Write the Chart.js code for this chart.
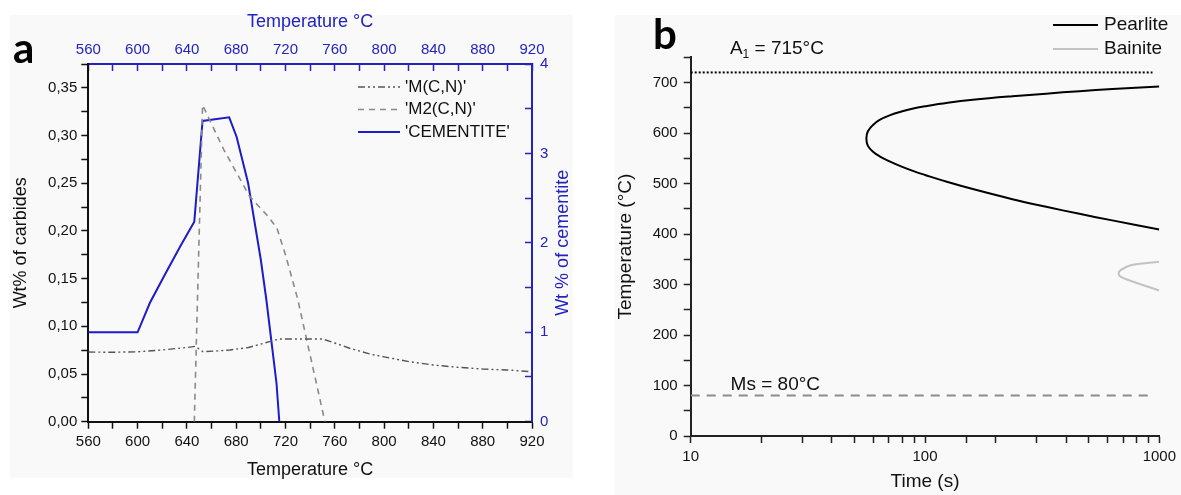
<!DOCTYPE html>
<html>
<head>
<meta charset="utf-8">
<script src="https://cdn.jsdelivr.net/npm/chart.js@4.4.1/dist/chart.umd.min.js"></script>
<style>
  html, body { margin: 0; padding: 0; background: #fff; }
  body { width: 1181px; height: 495px; position: relative; overflow: hidden; }
  .panel { position: absolute; background: #f9f9f9; }
  .box { position: absolute; top: 0; height: 495px; }
  .letter { position: absolute; font-family: Lato, "Open Sans", sans-serif; font-weight: 700; font-size: 42px; line-height: 1; color: #000; }
</style>
</head>
<body>
<div class="panel" style="left:10px;top:15px;width:563px;height:463px"></div>
<div class="panel" style="left:615px;top:15px;width:566px;height:480px"></div>
<div class="box" style="left:0;width:580px"><canvas id="chartA"></canvas></div>
<div class="box" style="left:600px;width:581px"><canvas id="chartB"></canvas></div>
<div class="letter" style="left:13px;top:26px">a</div>
<div class="letter" style="left:653px;top:12px">b</div>

<script>
// Panel a : carbides vs temperature
const mcnTemp = [560, 580, 600, 620, 640, 647, 653, 665, 675, 690, 707, 715, 750, 760, 772, 790, 800, 820, 840, 860, 880, 900, 920];
const mcnWt = [0.0730, 0.0728, 0.0733, 0.0752, 0.0778, 0.0790, 0.0734, 0.0742, 0.0752, 0.0778, 0.0839, 0.0867, 0.0867, 0.0825, 0.0770, 0.0705, 0.0680, 0.0630, 0.0594, 0.0570, 0.0552, 0.0542, 0.0524];

const m2cnTemp = [646, 652.7, 670, 691, 706, 713, 720, 730, 737, 752];
const m2cnWt = [0, 0.332, 0.285, 0.236, 0.215, 0.203, 0.175, 0.128, 0.087, 0];

const cemTemp = [560, 600, 610, 623.5, 635, 646, 652.7, 674.3, 680.3, 689.7, 700, 704.5, 708.6, 712.7, 715];
const cemWt = [1.0, 1.0, 1.33, 1.68, 1.97, 2.237, 3.363, 3.404, 3.187, 2.666, 1.808, 1.361, 0.895, 0.43, 0];

// Panel b : TTT diagram
const pearliteTime = [1000, 630, 456, 329, 236, 160, 125, 100, 90, 80, 70.6, 64, 60, 57, 56.2, 57, 60, 64, 70.6, 80, 90, 100, 125, 160, 236, 329, 456, 630, 1000];
const pearliteTemp = [692, 687, 683, 678, 673, 666, 660, 653, 649, 643, 635, 626, 616, 603, 589, 575, 563, 554, 544, 533, 524, 517, 503, 489, 469, 454, 440, 427, 409];

const bainiteTime = [1000, 769, 686, 670, 686, 769, 1000];
const bainiteTemp = [345, 339, 329, 322, 315, 306, 288];

const a1Time = [10, 935];
const a1Temp = [720, 720];
const msTime = [10, 935];
const msTemp = [80, 80];

const blue = '#2323c0';
const ink = '#111';
const fontFam = '"Liberation Sans", Arial, sans-serif';

Chart.defaults.font.family = fontFam;
Chart.defaults.color = ink;

function pts(xs, ys) {
    return xs.map((x, i) => ({ x: x, y: ys[i] }));
}

// legende dessinee a la main (positions fixes)
function drawLegend(ctx, items, x0, x1, xt, y0, dy, size) {
    ctx.save();
    ctx.font = size + 'px ' + fontFam;
    ctx.textBaseline = 'middle';
    items.forEach((ds, i) => {
        const y = y0 + i * dy;
        ctx.strokeStyle = ds.borderColor;
        ctx.lineWidth = ds.borderWidth;
        ctx.setLineDash(ds.borderDash || []);
        ctx.beginPath();
        ctx.moveTo(x0, y);
        ctx.lineTo(x1, y);
        ctx.stroke();
        ctx.setLineDash([]);
        ctx.fillStyle = ink;
        ctx.fillText(ds.label, xt, y);
    });
    ctx.restore();
}

const extrasA = {
    id: 'extrasA',
    afterDraw(chart) {
        const ctx = chart.ctx;
        drawLegend(ctx, chart.data.datasets, 358, 400, 405, 87, 22.5, 17);
        const y2 = chart.scales.y2;
        ctx.save();
        ctx.translate(563, (y2.top + y2.bottom) / 2);
        ctx.rotate(-Math.PI / 2);
        ctx.textAlign = 'center';
        ctx.textBaseline = 'middle';
        ctx.fillStyle = blue;
        ctx.font = '18px ' + fontFam;
        ctx.fillText('Wt % of cementite', 0, 0);
        ctx.restore();
    }
};

new Chart(document.getElementById('chartA'), {
    type: 'scatter',
    data: {
        datasets: [
            {
                label: "'M(C,N)'",
                data: pts(mcnTemp, mcnWt),
                showLine: true,
                borderColor: '#555',
                borderWidth: 1.4,
                borderDash: [7, 3, 2, 3, 2, 3],
                pointRadius: 0,
                xAxisID: 'x',
                yAxisID: 'y'
            },
            {
                label: "'M2(C,N)'",
                data: pts(m2cnTemp, m2cnWt),
                showLine: true,
                borderColor: '#8a8a8a',
                borderWidth: 1.6,
                borderDash: [6, 5],
                pointRadius: 0,
                xAxisID: 'x',
                yAxisID: 'y'
            },
            {
                label: "'CEMENTITE'",
                data: pts(cemTemp, cemWt),
                showLine: true,
                borderColor: '#1c1cc8',
                borderWidth: 2,
                pointRadius: 0,
                xAxisID: 'x',
                yAxisID: 'y2'
            }
        ]
    },
    options: {
        responsive: true,
        maintainAspectRatio: false,
        animation: false,
        layout: { padding: 0 },
        plugins: { legend: { display: false }, tooltip: { enabled: false } },
        scales: {
            x: {
                type: 'linear', position: 'bottom', min: 560, max: 920,
                ticks: { stepSize: 20, autoSkip: false, maxRotation: 0, padding: 4, color: ink, font: { size: 15 },
                    callback: v => (v % 40 === 0 ? String(v) : '') },
                grid: { drawOnChartArea: false, tickLength: 7, tickColor: ink, tickWidth: 1.5 },
                border: { color: ink, width: 2 },
                title: { display: true, text: 'Temperature °C', color: ink, font: { size: 18 }, padding: { top: 0, bottom: 14 } },
                afterFit: s => { s.height = 73.3; }
            },
            x2: {
                type: 'linear', position: 'top', min: 560, max: 920,
                ticks: { stepSize: 20, autoSkip: false, maxRotation: 0, padding: 12, color: blue, font: { size: 15 },
                    callback: v => (v % 40 === 0 ? String(v) : '') },
                grid: { drawOnChartArea: false, tickLength: -7, tickColor: blue, tickWidth: 1.5 },
                border: { color: blue, width: 2 },
                title: { display: true, text: 'Temperature °C', color: blue, font: { size: 18 }, padding: { top: 11, bottom: 0 } },
                afterFit: s => { s.height = 64; }
            },
            y: {
                type: 'linear', position: 'left', min: 0, max: 0.375,
                ticks: { stepSize: 0.025, autoSkip: false, padding: 4, color: ink, font: { size: 15 },
                    callback: v => (Math.round(v * 1000) % 50 === 0 ? v.toFixed(2).replace('.', ',') : '') },
                grid: { drawOnChartArea: false, tickLength: 7, tickColor: ink, tickWidth: 1.5 },
                border: { color: ink, width: 2 },
                title: { display: true, text: 'Wt% of carbides', color: ink, font: { size: 18 }, padding: { top: 10, bottom: 0 } },
                afterFit: s => { s.width = 88.3; }
            },
            y2: {
                type: 'linear', position: 'right', min: 0, max: 4,
                ticks: { stepSize: 0.5, autoSkip: false, padding: 15, color: blue, font: { size: 15 },
                    callback: v => (Number.isInteger(v) ? String(v) : '') },
                grid: { drawOnChartArea: false, tickLength: -7, tickColor: blue, tickWidth: 1.5 },
                border: { color: blue, width: 2 },
                title: { display: false },
                afterFit: s => { s.width = 48; }
            }
        }
    },
    plugins: [extrasA]
});

const extrasB = {
    id: 'extrasB',
    afterDraw(chart) {
        const ctx = chart.ctx;
        drawLegend(ctx, chart.data.datasets.slice(0, 2), 453, 498, 504, 25, 24, 19);

        const xs = chart.scales.x;
        const ys = chart.scales.y;
        ctx.save();
        ctx.fillStyle = ink;
        ctx.textBaseline = 'alphabetic';
        // A1 label
        let px = xs.getPixelForValue(14.7);
        let py = ys.getPixelForValue(a1Temp[0]) - 18;
        ctx.font = '19px ' + fontFam;
        ctx.fillText('A', px, py);
        px += ctx.measureText('A').width;
        ctx.font = '12px ' + fontFam;
        ctx.fillText('1', px, py + 4);
        px += ctx.measureText('1').width;
        ctx.font = '19px ' + fontFam;
        ctx.fillText(' = 715°C', px, py);
        // Ms label
        px = xs.getPixelForValue(14.8);
        py = ys.getPixelForValue(msTemp[0]) - 6;
        ctx.fillText('Ms = 80°C', px, py);
        ctx.restore();
    }
};

new Chart(document.getElementById('chartB'), {
    type: 'scatter',
    data: {
        datasets: [
            {
                label: 'Pearlite',
                data: pts(pearliteTime, pearliteTemp),
                showLine: true,
                borderColor: '#000',
                borderWidth: 2,
                tension: 0.4,
                pointRadius: 0
            },
            {
                label: 'Bainite',
                data: pts(bainiteTime, bainiteTemp),
                showLine: true,
                borderColor: '#c2c2c2',
                borderWidth: 2,
                tension: 0.4,
                pointRadius: 0
            },
            {
                label: 'A1',
                data: pts(a1Time, a1Temp),
                showLine: true,
                borderColor: '#000',
                borderWidth: 2,
                borderDash: [2, 2],
                pointRadius: 0
            },
            {
                label: 'Ms',
                data: pts(msTime, msTemp),
                showLine: true,
                borderColor: '#8c8c8c',
                borderWidth: 2,
                borderDash: [9, 7],
                pointRadius: 0
            }
        ]
    },
    options: {
        responsive: true,
        maintainAspectRatio: false,
        animation: false,
        layout: { padding: { top: 57.3, right: 21, left: 0, bottom: 0 } },
        plugins: { legend: { display: false }, tooltip: { enabled: false } },
        scales: {
            x: {
                type: 'logarithmic', position: 'bottom', min: 10, max: 1000,
                ticks: { autoSkip: false, maxRotation: 0, padding: 5, color: ink, font: { size: 15 },
                    callback: v => {
                        const l = Math.log10(v);
                        return Math.abs(l - Math.round(l)) < 1e-9 ? String(v) : '';
                    } },
                grid: { drawOnChartArea: false, tickLength: 7, tickColor: '#222', tickWidth: 1.5 },
                border: { color: '#222', width: 2 },
                title: { display: true, text: 'Time (s)', color: ink, font: { size: 19 }, padding: { top: 0, bottom: 2 } },
                afterFit: s => { s.height = 59; }
            },
            y: {
                type: 'linear', position: 'left', min: 0, max: 750,
                ticks: { stepSize: 50, autoSkip: false, padding: 6, color: ink, font: { size: 15 },
                    callback: v => (v % 100 === 0 ? String(v) : '') },
                grid: { drawOnChartArea: false, tickLength: 7, tickColor: '#222', tickWidth: 1.5 },
                border: { color: '#222', width: 2 },
                title: { display: true, text: 'Temperature (°C)', color: ink, font: { size: 19 }, padding: { top: 14, bottom: 0 } },
                afterFit: s => { s.width = 90.7; }
            }
        }
    },
    plugins: [extrasB]
});
</script>
</body>
</html>
